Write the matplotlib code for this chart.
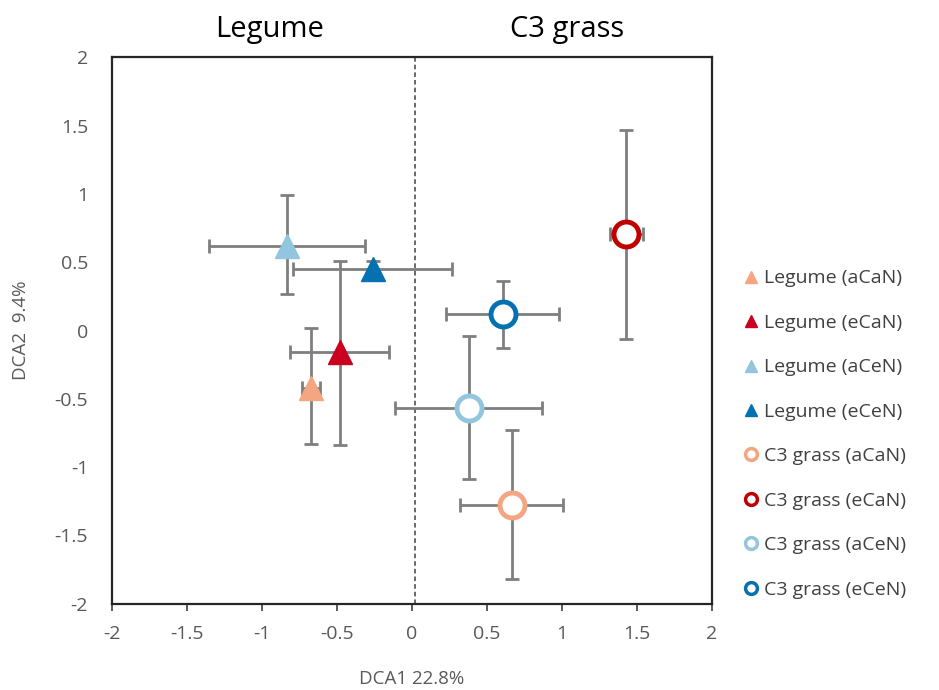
import matplotlib
matplotlib.use('Agg')
import matplotlib.pyplot as plt
import numpy as np

plt.rcParams['font.family'] = ['Open Sans', 'DejaVu Sans']

# DCA scores (mean) with error bars
labels = ['Legume (aCaN)', 'Legume (eCaN)', 'Legume (aCeN)', 'Legume (eCeN)',
          'C3 grass (aCaN)', 'C3 grass (eCaN)', 'C3 grass (aCeN)', 'C3 grass (eCeN)']
dca1 = [-0.67, -0.48, -0.83, -0.26, 0.67, 1.43, 0.38, 0.605]
dca2 = [-0.42, -0.16, 0.62, 0.45, -1.28, 0.71, -0.57, 0.12]
x_lo = [-0.73, -0.81, -1.35, -0.79, 0.32, 1.32, -0.11, 0.23]
x_hi = [-0.61, -0.15, -0.31, 0.27, 1.01, 1.54, 0.87, 0.98]
y_lo = [-0.83, -0.84, 0.27, 0.38, -1.82, -0.06, -1.09, -0.13]
y_hi = [0.02, 0.51, 0.99, 0.51, -0.73, 1.47, -0.04, 0.36]
colors = ['#F4A582', '#CA0020', '#92C5DE', '#0571B0',
          '#F4A582', '#C00000', '#92C5DE', '#0571B0']
tick_vals = [-2, -1.5, -1, -0.5, 0, 0.5, 1, 1.5, 2]
tick_text = ['-2', '-1.5', '-1', '-0.5', '0', '0.5', '1', '1.5', '2']
divider_x = 0.02

fig = plt.figure(figsize=(9.39, 6.9), dpi=100)
ax = fig.add_axes([0.119, 0.125, 0.639, 0.792])

ax.axvline(divider_x, color='#404040', ls=(0, (3, 2)), lw=1.1, zorder=1)

handles = []
for i in range(len(labels)):
    xerr = [[dca1[i] - x_lo[i]], [x_hi[i] - dca1[i]]]
    yerr = [[dca2[i] - y_lo[i]], [y_hi[i] - dca2[i]]]
    ax.errorbar(dca1[i], dca2[i], xerr=xerr, yerr=yerr, fmt='none',
                ecolor='#7f7f7f', elinewidth=2, capsize=5, capthick=2, zorder=2)
    if i < 4:
        ax.plot(dca1[i], dca2[i], marker='^', ms=17, color=colors[i],
                mec=colors[i], ls='none', zorder=3)
        h, = ax.plot([], [], marker='^', ms=9, color=colors[i], mec=colors[i],
                     ls='none', label=labels[i])
    else:
        ax.plot(dca1[i], dca2[i], marker='o', ms=18, mfc='white', mec=colors[i],
                mew=3.5, ls='none', zorder=3)
        h, = ax.plot([], [], marker='o', ms=8.5, mfc='white', mec=colors[i],
                     mew=2.5, ls='none', label=labels[i])
    handles.append(h)

ax.set_xlim(-2, 2)
ax.set_ylim(-2, 2)
ax.set_xticks(tick_vals)
ax.set_yticks(tick_vals)
ax.set_xticklabels(tick_text)
ax.set_yticklabels(tick_text)
ax.tick_params(axis='x', direction='out', length=5, width=1.2, colors='#404040',
               labelcolor='#595959', labelsize=14, pad=10)
ax.tick_params(axis='y', length=0, labelcolor='#595959', labelsize=14, pad=17)
for s in ax.spines.values():
    s.set_linewidth(1.6)
    s.set_color('#262626')

ax.set_xlabel('DCA1 22.8%', color='#595959', fontsize=13.5, labelpad=20)
ax.set_ylabel('DCA2  9.4%', color='#595959', fontsize=13.5, labelpad=18)

fig.text(270 / 939, 1 - 29 / 690, 'Legume', fontsize=21, ha='center', va='center')
fig.text(567 / 939, 1 - 29 / 690, 'C3 grass', fontsize=21, ha='center', va='center')

fig.legend(handles=handles, loc='center left', bbox_to_anchor=(0.774, 0.371),
           frameon=False, fontsize=14, labelspacing=1.36, handlelength=0.7,
           handletextpad=0.3, labelcolor='#404040')

fig.savefig('out.png', dpi=100)
